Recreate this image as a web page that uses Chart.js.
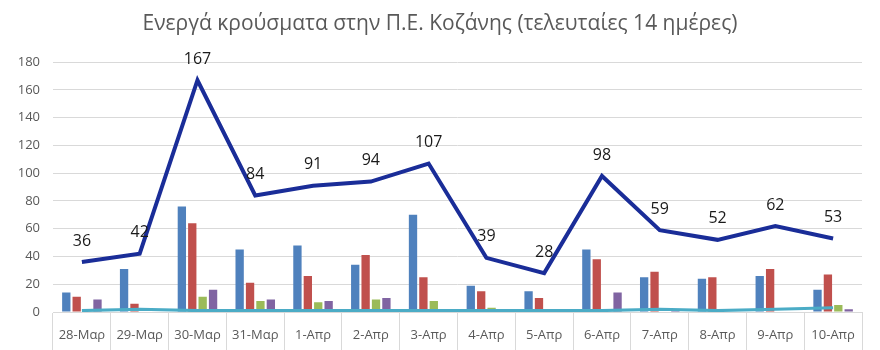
<!DOCTYPE html>
<html>
<head>
<meta charset="utf-8">
<script src="https://cdn.jsdelivr.net/npm/chart.js@4"></script>
<style>
  html, body { margin: 0; padding: 0; background: #fff; }
  #wrap { width: 880px; height: 350px; }
</style>
</head>
<body>
<div id="wrap"><canvas id="activeChart"></canvas></div>
<script>
const days = ['28-Μαρ','29-Μαρ','30-Μαρ','31-Μαρ','1-Απρ','2-Απρ','3-Απρ','4-Απρ','5-Απρ','6-Απρ','7-Απρ','8-Απρ','9-Απρ','10-Απρ'];
const active = [36, 42, 167, 84, 91, 94, 107, 39, 28, 98, 59, 52, 62, 53];
const blueBars = [14, 31, 76, 45, 48, 34, 70, 19, 15, 45, 25, 24, 26, 16];
const redBars = [11, 6, 64, 21, 26, 41, 25, 15, 10, 38, 29, 25, 31, 27];
const greenBars = [0, 0, 11, 8, 7, 9, 8, 3, 0, 0, 0, 0, 0, 5];
const purpleBars = [9, 0, 16, 9, 8, 10, 2, 1, 0, 14, 1, 0, 0, 2];
const tealLine = [1, 2, 1, 1, 1, 1, 1, 1, 1, 1, 2, 1, 2, 3];
const yTicks = [0, 20, 40, 60, 80, 100, 120, 140, 160, 180];

const FONT = "'Open Sans', sans-serif";

// value labels above the main line
const lineLabels = {
    id: 'lineLabels',
    afterDatasetsDraw(chart) {
        const ctx = chart.ctx;
        const meta = chart.getDatasetMeta(0);
        ctx.save();
        ctx.font = '16px ' + FONT;
        ctx.fillStyle = '#1a1a1a';
        ctx.textAlign = 'center';
        ctx.textBaseline = 'middle';
        meta.data.forEach((pt, i) => {
            ctx.fillText(String(active[i]), pt.x, pt.y - 21);
        });
        ctx.restore();
    }
};

const ctx1 = document.getElementById('activeChart').getContext('2d');
const activeChart = new Chart(ctx1, {
    type: 'bar',
    data: {
        labels: days,
        datasets: [{
            type: 'line',
            label: 'Ενεργά',
            data: active,
            borderColor: '#1a2d98',
            borderWidth: 4,
            pointRadius: 0,
            tension: 0,
            order: 0
        }, {
            type: 'line',
            label: 'teal',
            data: tealLine,
            borderColor: '#4bacc6',
            borderWidth: 3,
            pointRadius: 0,
            tension: 0,
            order: 1
        }, {
            label: 'blue',
            data: blueBars,
            backgroundColor: '#4f81bd',
            order: 2
        }, {
            label: 'red',
            data: redBars,
            backgroundColor: '#c0504d',
            order: 2
        }, {
            label: 'green',
            data: greenBars,
            backgroundColor: '#9bbb59',
            order: 2
        }, {
            label: 'purple',
            data: purpleBars,
            backgroundColor: '#8064a2',
            order: 2
        }]
    },
    options: {
        responsive: true,
        maintainAspectRatio: false,
        animation: false,
        events: [],
        categoryPercentage: 0.72,
        barPercentage: 0.8,
        layout: {
            padding: 0
        },
        scales: {
            x: {
                grid: {
                    offset: true,
                    drawOnChartArea: false,
                    drawTicks: true,
                    tickLength: 38,
                    color: '#d9d9d9'
                },
                border: { color: '#d9d9d9' },
                ticks: {
                    color: '#595959',
                    font: { family: FONT, size: 13 },
                    padding: -23,
                    maxRotation: 0,
                    autoSkip: false
                },
                afterFit(axis) { axis.height = 38; }
            },
            y: {
                min: 0,
                max: 180,
                afterBuildTicks(axis) {
                    axis.ticks = yTicks.map(v => ({ value: v }));
                },
                grid: {
                    color: '#d9d9d9',
                    drawTicks: false
                },
                border: { display: false },
                ticks: {
                    color: '#595959',
                    font: { family: FONT, size: 13 },
                    padding: 13
                },
                afterFit(axis) { axis.width = 53; }
            },
            // empty right margin so the title stays centred on the canvas
            yRight: {
                position: 'right',
                display: true,
                grid: { display: false },
                border: { display: false },
                ticks: { display: false },
                afterFit(axis) { axis.width = 18; }
            }
        },
        plugins: {
            legend: { display: false },
            tooltip: { enabled: false },
            title: {
                display: true,
                text: 'Ενεργά κρούσματα στην Π.Ε. Κοζάνης (τελευταίες 14 ημέρες)',
                color: '#595959',
                align: 'center',
                font: { family: FONT, size: 21, weight: 'normal' },
                padding: { top: 11, bottom: 26 }
            }
        }
    },
    plugins: [lineLabels]
});
</script>
</body>
</html>
